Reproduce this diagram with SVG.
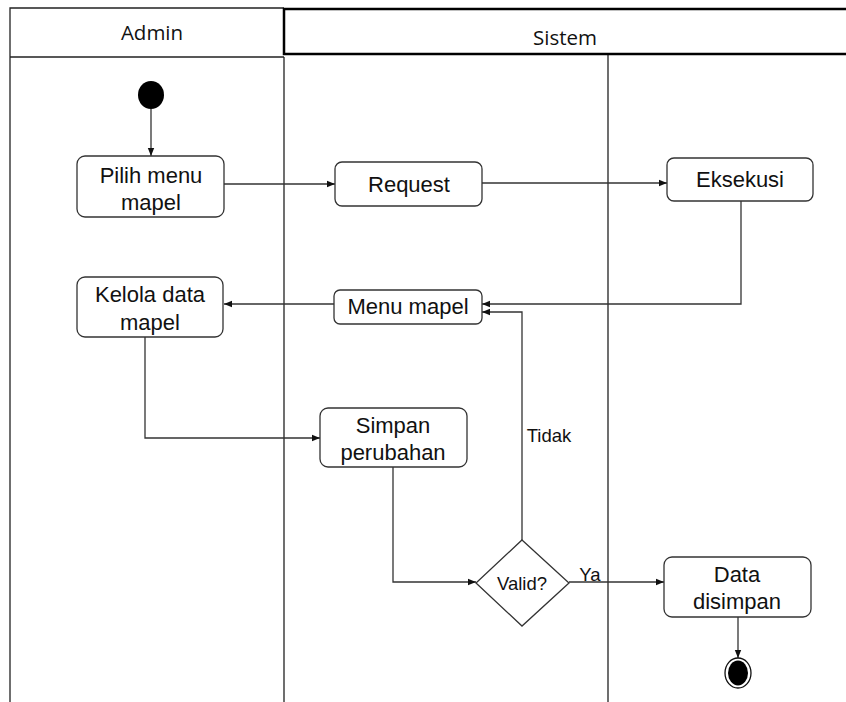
<svg xmlns="http://www.w3.org/2000/svg" width="846" height="702" viewBox="0 0 846 702">
  <style>
    .lane { fill: none; stroke: #222; stroke-width: 1.3; }
    .head { fill: none; stroke: #000; stroke-width: 2.5; }
    .lanetxt { font-family: "Open Sans", "Liberation Sans", sans-serif; font-size: 20.5px; fill: #111; text-anchor: middle; }
    .act { fill: #fff; stroke: #333; stroke-width: 1.3; }
    .txt { font-family: "Liberation Sans", Arial, sans-serif; font-size: 22px; fill: #111; text-anchor: middle; }
    .lbl { font-family: "Liberation Sans", Arial, sans-serif; font-size: 18.5px; fill: #111; text-anchor: middle; }
    .flow { fill: none; stroke: #333; stroke-width: 1.3; marker-end: url(#arrow); }
  </style>
  <defs>
    <marker id="arrow" viewBox="0 0 10 10" refX="10" refY="5" markerWidth="8" markerHeight="8" markerUnits="userSpaceOnUse" orient="auto">
      <path d="M0,1 L10,5 L0,9 Z" fill="#111"/>
    </marker>
  </defs>

  <rect width="846" height="702" fill="#fff"/>

  <!-- swimlanes -->
  <g id="lanes">
    <path class="lane" d="M10,702 V8 H284 M10,57 H284 M284,57 V702 M608,54 V702"/>
    <rect class="head" x="284" y="9" width="565" height="45"/>
    <text class="lanetxt" x="152" y="40">Admin</text>
    <text class="lanetxt" x="565" y="45">Sistem</text>
  </g>

  <!-- connectors -->
  <g id="connectors">
    <path class="flow" d="M151,109 V156"/>
    <path class="flow" d="M224,184 H335"/>
    <path class="flow" d="M482,183 H667"/>
    <path class="flow" d="M741,201 V304 H482"/>
    <path class="flow" d="M334,304 H224"/>
    <path class="flow" d="M145,337 V438 H320"/>
    <path class="flow" d="M393,467 V582 H476"/>
    <path class="flow" d="M569,582 H664"/>
    <path class="flow" d="M522,540 V312 H482"/>
    <path class="flow" d="M738,617 V658"/>
    <text class="lbl" x="590" y="581">Ya</text>
    <text class="lbl" x="549" y="442">Tidak</text>
  </g>

  <!-- nodes -->
  <g id="start">
    <ellipse cx="151" cy="95" rx="13" ry="14" fill="#000"/>
  </g>
  <g id="pilih-menu">
    <rect class="act" x="77" y="156" width="147" height="61" rx="8"/>
    <text class="txt" x="151" y="183">Pilih menu</text>
    <text class="txt" x="151" y="210">mapel</text>
  </g>
  <g id="request">
    <rect class="act" x="335" y="162" width="147" height="44" rx="7"/>
    <text class="txt" x="409" y="192">Request</text>
  </g>
  <g id="eksekusi">
    <rect class="act" x="667" y="158" width="146" height="43" rx="7"/>
    <text class="txt" x="740" y="187">Eksekusi</text>
  </g>
  <g id="menu-mapel">
    <rect class="act" x="334" y="290" width="148" height="34" rx="6"/>
    <text class="txt" x="408" y="314">Menu mapel</text>
  </g>
  <g id="kelola">
    <rect class="act" x="77" y="277" width="146" height="60" rx="8"/>
    <text class="txt" x="150" y="302">Kelola data</text>
    <text class="txt" x="150" y="330">mapel</text>
  </g>
  <g id="simpan">
    <rect class="act" x="320" y="408" width="147" height="59" rx="8"/>
    <text class="txt" x="393" y="433">Simpan</text>
    <text class="txt" x="393" y="460">perubahan</text>
  </g>
  <g id="valid">
    <path class="act" d="M522,540 L569,583 L522,626 L476,583 Z"/>
    <text class="lbl" x="522" y="590">Valid?</text>
  </g>
  <g id="data-disimpan">
    <rect class="act" x="664" y="557" width="147" height="60" rx="8"/>
    <text class="txt" x="737" y="582">Data</text>
    <text class="txt" x="737" y="609">disimpan</text>
  </g>
  <g id="end">
    <ellipse cx="738" cy="673" rx="13" ry="15" fill="#fff" stroke="#111" stroke-width="1.3"/>
    <ellipse cx="738" cy="673" rx="10" ry="12.5" fill="#000"/>
  </g>
</svg>
